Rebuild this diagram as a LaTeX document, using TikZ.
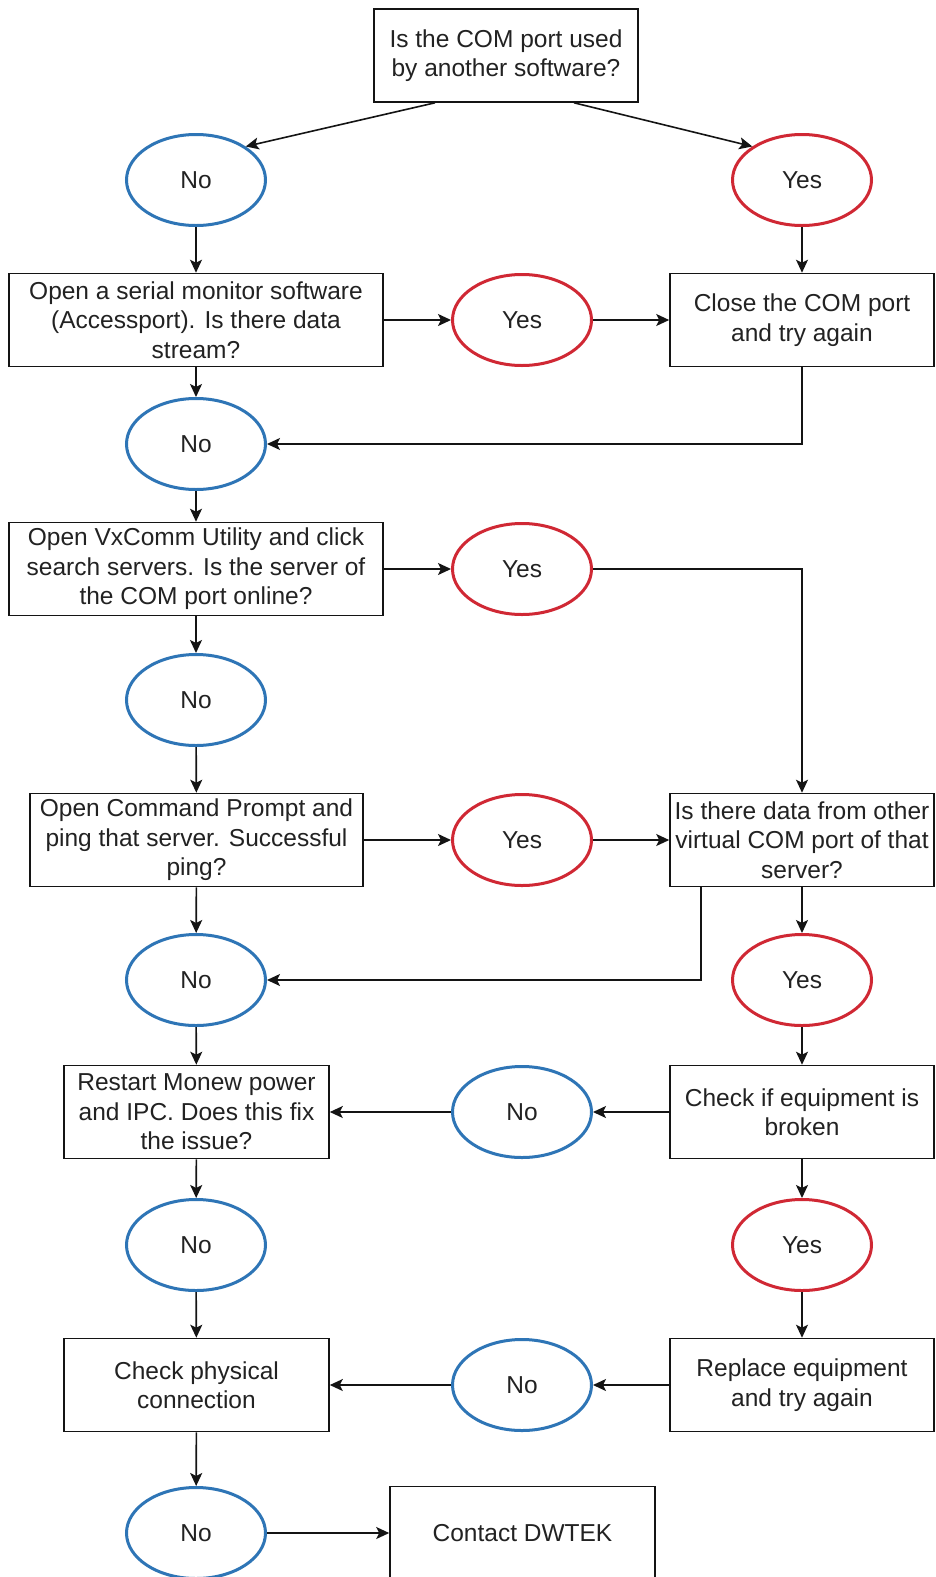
\documentclass[tikz,border=0pt]{standalone}
\usepackage{fontspec}
\setmainfont{Liberation Sans}
\usetikzlibrary{arrows.meta,shapes.geometric}
\definecolor{noblue}{RGB}{46,117,182}
\definecolor{yesred}{RGB}{208,40,52}
\definecolor{txt}{RGB}{34,34,34}
\definecolor{lin}{RGB}{20,20,20}
\begin{document}
\begin{tikzpicture}[x=1pt,y=-1pt,
  every node/.style={font=\fontsize{24.5}{29.5}\selectfont, text=txt},
  box/.style={draw=lin, line width=1.6pt, rectangle, inner sep=0pt, align=center, minimum height=93pt},
  nocirc/.style={draw=noblue, ellipse, line width=3pt, minimum width=139pt, minimum height=91pt, inner sep=0pt},
  yescirc/.style={nocirc, draw=yesred},
  arr/.style={-{Stealth[length=13pt,width=12pt,inset=3pt]}, line width=1.6pt, draw=lin}]
\useasboundingbox (0,0) rectangle (935,1577);
\clip (0,0) rectangle (935,1577);
\fill[white] (0,0) rectangle (935,1577);

% boxes
\node[box, minimum width=264pt] (top) at (506,55.5) {Is the COM port used\\by another software?};
\node[box, minimum width=374pt] (serial) at (196,320) {Open a serial monitor software\\(Accessport). Is there data\\stream?};
\node[box, minimum width=264pt] (close) at (802,320) {Close the COM port\\and try again};
\node[box, minimum width=374pt] (vx) at (196,569) {Open VxComm Utility and click\\search servers. Is the server of\\the COM port online?};
\node[box, minimum width=333pt] (cmd) at (196.5,840) {Open Command Prompt and\\ping that server. Successful\\ping?};
\node[box, minimum width=264pt] (isdata) at (802,840) {Is there data from other\\virtual COM port of that\\server?};
\node[box, minimum width=265pt] (restart) at (196.5,1112) {Restart Monew power\\and IPC. Does this fix\\the issue?};
\node[box, minimum width=264pt] (check) at (802,1112) {Check if equipment is\\broken};
\node[box, minimum width=265pt] (phys) at (196.5,1385) {Check physical\\connection};
\node[box, minimum width=264pt] (replace) at (802,1385) {Replace equipment\\and try again};
\node[box, minimum width=265pt] (contact) at (522.5,1533) {Contact DWTEK};

% ellipses
\node[nocirc] (no1) at (196,180) {No};
\node[yescirc] (yes1) at (802,180) {Yes};
\node[yescirc] (yes2) at (522,320) {Yes};
\node[nocirc] (no3) at (196,444) {No};
\node[yescirc] (yes3) at (522,569) {Yes};
\node[nocirc] (no4) at (196,700) {No};
\node[yescirc] (yes4) at (522,840) {Yes};
\node[nocirc] (no5) at (196,980) {No};
\node[yescirc] (yes5) at (802,980) {Yes};
\node[nocirc] (no6) at (522,1112) {No};
\node[nocirc] (no7) at (196,1245) {No};
\node[yescirc] (yes7) at (802,1245) {Yes};
\node[nocirc] (no8) at (522,1385) {No};
\node[nocirc] (no9) at (196,1533) {No};

% connectors
\draw[arr] ([xshift=-71pt]top.south) -- (no1.34);
\draw[arr] ([xshift=68pt]top.south) -- (yes1.146);
\draw[arr] (no1) -- (serial);
\draw[arr] (yes1) -- (close);
\draw[arr] (serial) -- (yes2);
\draw[arr] (yes2) -- (close);
\draw[arr] (close.south) |- (no3.east);
\draw[arr] (serial) -- (no3);
\draw[arr] (no3) -- (vx);
\draw[arr] (vx) -- (yes3);
\draw[arr] (yes3.east) -| (isdata.north);
\draw[arr] (vx) -- (no4);
\draw[arr] (no4) -- (cmd);
\draw[arr] (cmd) -- (yes4);
\draw[arr] (yes4) -- (isdata);
\draw[arr] (cmd) -- (no5);
\draw[arr] ([xshift=-101pt]isdata.south) |- (no5.east);
\draw[arr] (isdata) -- (yes5);
\draw[arr] (yes5) -- (check);
\draw[arr] (check) -- (no6);
\draw[arr] (no6) -- (restart);
\draw[arr] (no5) -- (restart);
\draw[arr] (restart) -- (no7);
\draw[arr] (no7) -- (phys);
\draw[arr] (check) -- (yes7);
\draw[arr] (yes7) -- (replace);
\draw[arr] (replace) -- (no8);
\draw[arr] (no8) -- (phys);
\draw[arr] (phys) -- (no9);
\draw[arr] (no9) -- (contact);
\end{tikzpicture}
\end{document}
